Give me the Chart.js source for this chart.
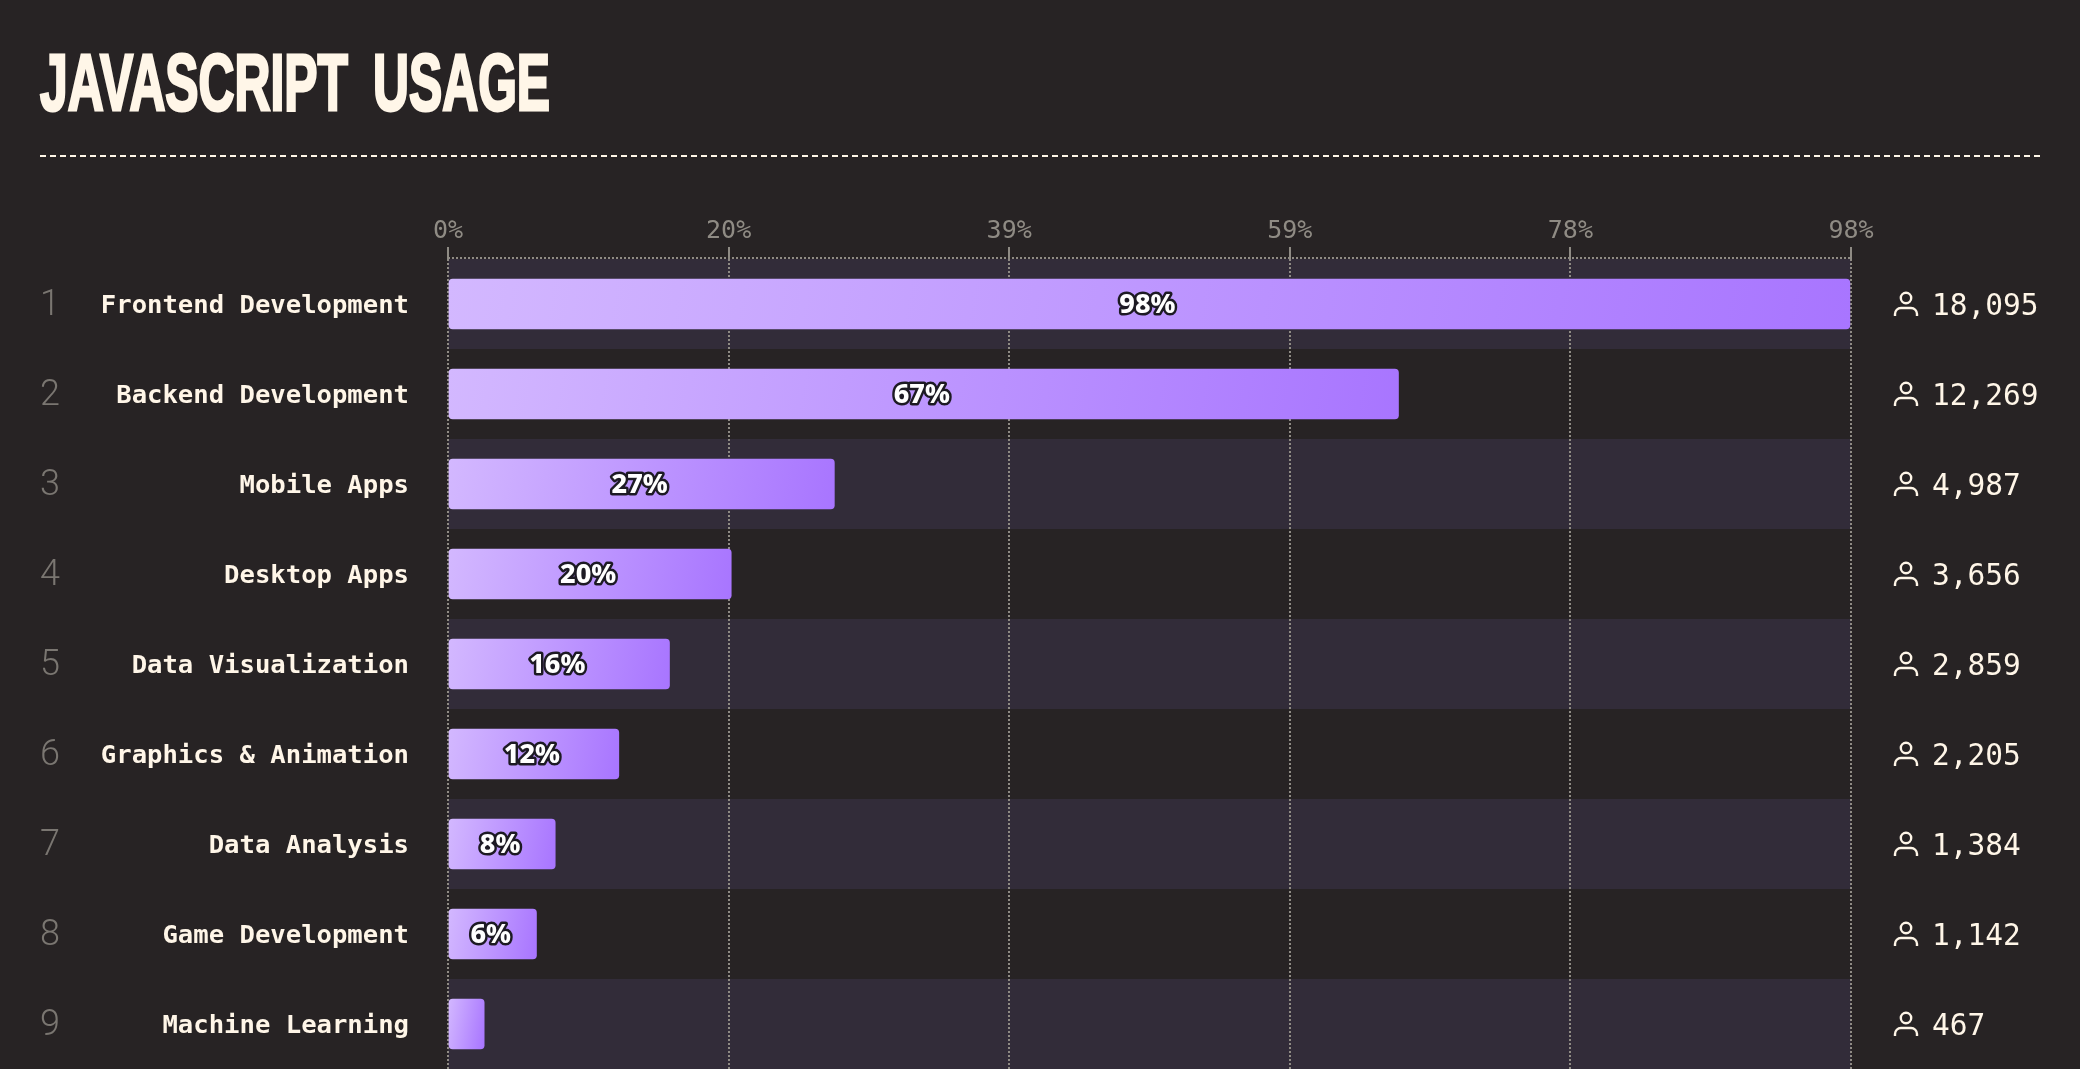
<!DOCTYPE html>
<html>
<head>
<meta charset="utf-8">
<title>JavaScript Usage</title>
<script src="https://cdn.jsdelivr.net/npm/chart.js@4"></script>
<style>
  html, body { margin: 0; padding: 0; background: #272324; overflow: hidden; }
  #wrap { position: relative; width: 2080px; height: 1069px; }
  #title {
    position: absolute; left: 40px; top: 38px; margin: 0;
    font: bold 79px "Liberation Sans Narrow", "Liberation Sans", sans-serif;
    color: #fff6e8; white-space: nowrap; line-height: 90px; word-spacing: 18px;
    -webkit-text-stroke: 3px #fff6e8;
    transform-origin: 0 0; transform: scaleX(0.63);
  }
  #rule {
    position: absolute; left: 40px; right: 40px; top: 155px; height: 2px;
    background: repeating-linear-gradient(to right, #fff6e8 0 6px, transparent 6px 10.02px);
  }
  canvas { position: absolute; left: 0; top: 0; }
</style>
</head>
<body>
<div id="wrap">
  <h1 id="title">JAVASCRIPT USAGE</h1>
  <div id="rule"></div>
  <canvas id="usage" width="2080" height="1069"></canvas>
</div>
<script>
const categories = ['Frontend Development', 'Backend Development', 'Mobile Apps', 'Desktop Apps', 'Data Visualization', 'Graphics & Animation', 'Data Analysis', 'Game Development', 'Machine Learning'];
const users = [18095, 12269, 4987, 3656, 2859, 2205, 1384, 1142, 467];
const percentLabels = ['98%', '67%', '27%', '20%', '16%', '12%', '8%', '6%', ''];
const tickLabels = ['0%', '20%', '39%', '59%', '78%', '98%'];
const axisMax = 18110;

const monoFont = '"DejaVu Sans Mono", monospace';
const cream = '#fff6e8';
const gridGrey = '#8f8b84';

// alternating row bands and the dotted line along the top of the plot
const rowBands = {
  id: 'rowBands',
  beforeDraw(chart) {
    const { ctx, chartArea, scales } = chart;
    const half = (scales.y.getPixelForValue(1) - scales.y.getPixelForValue(0)) / 2;
    ctx.save();
    ctx.fillStyle = '#322c39';
    categories.forEach((_, i) => {
      if (i % 2 === 0) {
        const y = scales.y.getPixelForValue(i);
        ctx.fillRect(chartArea.left, y - half, chartArea.right - chartArea.left, half * 2);
      }
    });
    ctx.strokeStyle = gridGrey;
    ctx.lineWidth = 2;
    ctx.setLineDash([2, 2]);
    ctx.beginPath();
    ctx.moveTo(chartArea.left, chartArea.top - 1);
    ctx.lineTo(chartArea.right, chartArea.top - 1);
    ctx.stroke();
    ctx.restore();
  }
};

function drawPerson(ctx, x, y) {
  ctx.save();
  ctx.strokeStyle = cream;
  ctx.lineWidth = 2.4;
  ctx.beginPath();
  ctx.arc(x, y - 6, 5.2, 0, Math.PI * 2);
  ctx.stroke();
  ctx.beginPath();
  ctx.moveTo(x - 11, y + 12);
  ctx.lineTo(x - 11, y + 10);
  ctx.arcTo(x - 11, y + 4, x - 5, y + 4, 6);
  ctx.lineTo(x + 5, y + 4);
  ctx.arcTo(x + 11, y + 4, x + 11, y + 10, 6);
  ctx.lineTo(x + 11, y + 12);
  ctx.stroke();
  ctx.restore();
}

// rank numbers, user counts and the labels inside the bars
const rowText = {
  id: 'rowText',
  afterDatasetsDraw(chart) {
    const { ctx, scales } = chart;
    const bars = chart.getDatasetMeta(0).data;
    ctx.save();
    ctx.textBaseline = 'middle';
    categories.forEach((_, i) => {
      const y = scales.y.getPixelForValue(i);
      ctx.textAlign = 'left';
      ctx.fillStyle = '#7a7671';
      ctx.font = '300 36px Roboto';
      ctx.fillText(String(i + 1), 40, y + 2);

      drawPerson(ctx, 1906, y);
      ctx.fillStyle = cream;
      ctx.font = '29.5px ' + monoFont;
      ctx.fillText(users[i].toLocaleString('en-US'), 1932, y + 3);

      if (percentLabels[i]) {
        const cx = (bars[i].base + bars[i].x) / 2 - 2;
        const ly = y + 1.5;
        ctx.textAlign = 'center';
        ctx.font = '800 27px "Noto Sans"';
        ctx.lineJoin = 'round';
        ctx.lineWidth = 5;
        ctx.strokeStyle = '#1d1a24';
        ctx.strokeText(percentLabels[i], cx, ly);
        ctx.fillStyle = '#ffffff';
        ctx.fillText(percentLabels[i], cx, ly);
      }
    });
    ctx.restore();
  }
};

// gradient running slightly off horizontal, fitted to one bar
function barGradient(context) {
  const area = context.chart.chartArea;
  if (!area) return '#c09bff';
  const { scales, ctx } = context.chart;
  const left = scales.x.getPixelForValue(0);
  const right = scales.x.getPixelForValue(users[context.dataIndex]);
  const cy = scales.y.getPixelForValue(context.dataIndex);
  const tilt = 10 * Math.PI / 180;
  const reach = ((right - left) * Math.cos(tilt) + 50 * Math.sin(tilt)) / 2;
  const cx = (left + right) / 2;
  const dx = Math.cos(tilt) * reach;
  const dy = Math.sin(tilt) * reach;
  const grad = ctx.createLinearGradient(cx - dx, cy - dy, cx + dx, cy + dy);
  grad.addColorStop(0, '#d3b8ff');
  grad.addColorStop(1, '#a875ff');
  return grad;
}

new Chart(document.getElementById('usage'), {
  type: 'bar',
  data: {
    labels: categories,
    datasets: [{
      data: users,
      barThickness: 50,
      borderRadius: 4,
      borderSkipped: false,
      backgroundColor: barGradient
    }]
  },
  plugins: [rowBands, rowText],
  options: {
    responsive: false,
    animation: false,
    indexAxis: 'y',
    layout: { padding: { left: 0, right: 229, top: 0, bottom: 0 } },
    plugins: { legend: { display: false }, tooltip: { enabled: false } },
    scales: {
      x: {
        position: 'top',
        min: 0,
        max: axisMax,
        afterFit(scale) { scale.height = 259; },
        afterBuildTicks(scale) {
          scale.ticks = tickLabels.map((_, i) => ({ value: axisMax * i / 5 }));
        },
        ticks: {
          autoSkip: false,
          maxRotation: 0,
          padding: 1,
          color: gridGrey,
          font: { family: monoFont, size: 25 },
          callback(value, index) { return tickLabels[index]; }
        },
        grid: { color: gridGrey, lineWidth: 2, tickLength: 12, tickColor: gridGrey, tickWidth: 2, tickBorderDash: [] },
        border: { display: false, dash: [2, 2] }
      },
      y: {
        afterFit(scale) {
          scale.width = 448;
          // the tick padding would otherwise be reserved above and below the plot
          scale.paddingTop = 0;
          scale.paddingBottom = 0;
        },
        ticks: {
          padding: 31,
          labelOffset: 2,
          color: cream,
          font: { family: monoFont, size: 25.6, weight: 'bold' }
        },
        grid: { display: false },
        border: { display: false }
      }
    }
  }
});
</script>
</body>
</html>
